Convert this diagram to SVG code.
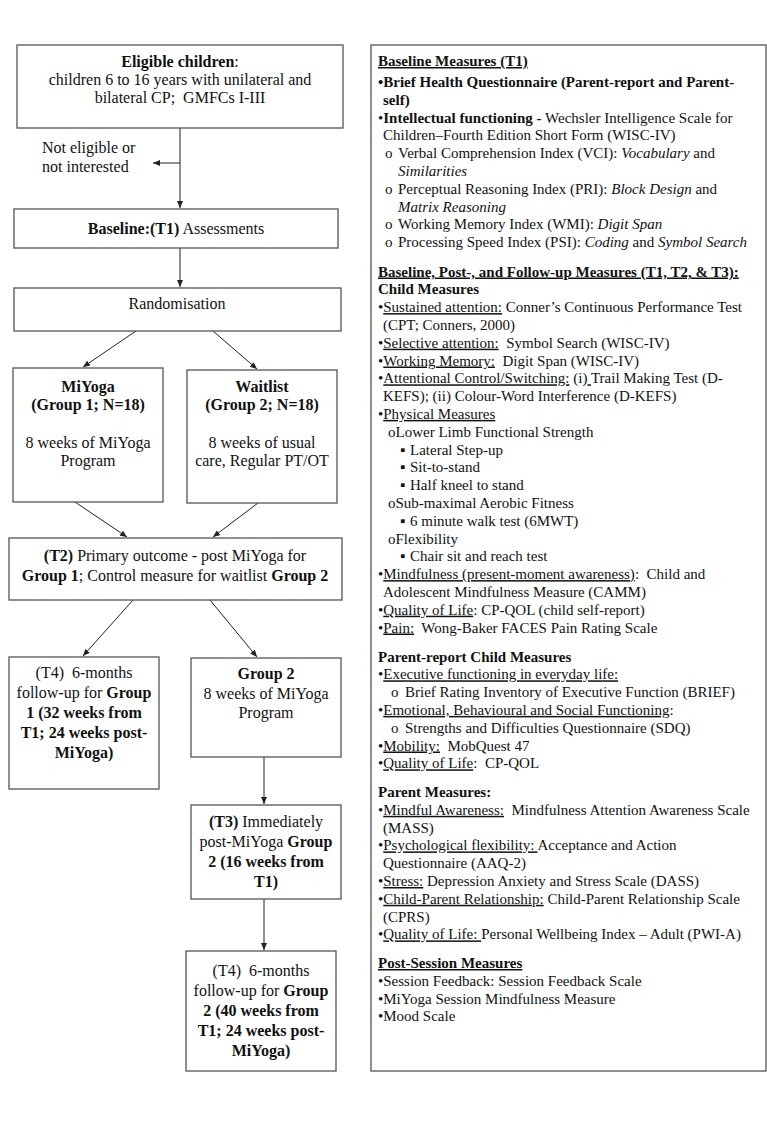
<svg xmlns="http://www.w3.org/2000/svg" width="767" height="1121" viewBox="0 0 767 1121">
<style>
.box{fill:#fff;stroke:#555;stroke-width:1.3}
.t{font-family:"Liberation Serif","Times New Roman",serif;font-size:16px;fill:#111;text-anchor:middle}
.tl{font-family:"Liberation Serif","Times New Roman",serif;font-size:16px;fill:#111}
.r{font-family:"Liberation Serif","Times New Roman","DejaVu Sans",serif;font-size:15px;fill:#111}
.b{font-weight:bold}
.i{font-style:italic}
.u{text-decoration:underline}
.ln{stroke:#222;stroke-width:1;fill:none}
</style>
<defs>
<marker id="ah" markerUnits="userSpaceOnUse" markerWidth="7" markerHeight="6" refX="7" refY="3" orient="auto">
<path d="M0,0 L7,3 L0,6 z" fill="#222"/>
</marker>
</defs>
<rect width="767" height="1121" fill="#fff"/>

<g id="connectors">
<line class="ln" x1="180" y1="128" x2="180" y2="208" marker-end="url(#ah)"/>
<line class="ln" x1="180" y1="163" x2="153" y2="163" marker-end="url(#ah)"/>
<line class="ln" x1="180" y1="248" x2="180" y2="287" marker-end="url(#ah)"/>
<line class="ln" x1="136" y1="331" x2="83" y2="367" marker-end="url(#ah)"/>
<line class="ln" x1="213" y1="331" x2="257" y2="369" marker-end="url(#ah)"/>
<line class="ln" x1="75" y1="502" x2="127" y2="537" marker-end="url(#ah)"/>
<line class="ln" x1="258" y1="503" x2="213" y2="537" marker-end="url(#ah)"/>
<line class="ln" x1="133" y1="600" x2="83" y2="656" marker-end="url(#ah)"/>
<line class="ln" x1="210" y1="600" x2="257" y2="657" marker-end="url(#ah)"/>
<line class="ln" x1="264" y1="757" x2="264" y2="804" marker-end="url(#ah)"/>
<line class="ln" x1="264" y1="899" x2="264" y2="950" marker-end="url(#ah)"/>
</g>

<g id="eligible">
<rect class="box" x="17" y="45" width="326" height="83"/>
<text class="t" x="180" y="67"><tspan class="b">Eligible children</tspan>:</text>
<text class="t" x="180" y="85">children 6 to 16 years with unilateral and</text>
<text class="t" x="180" y="103" xml:space="preserve">bilateral CP;  GMFCs I-III</text>
</g>

<g id="not-eligible">
<text class="tl" x="42" y="153">Not eligible or</text>
<text class="tl" x="42" y="172">not interested</text>
</g>

<g id="baseline">
<rect class="box" x="14" y="209" width="324" height="39"/>
<text class="t" x="176" y="234"><tspan class="b">Baseline:(T1)</tspan> Assessments</text>
</g>

<g id="randomisation">
<rect class="box" x="14" y="288" width="327" height="43"/>
<text class="t" x="177" y="309">Randomisation</text>
</g>

<g id="miyoga">
<rect class="box" x="13" y="368" width="150" height="134"/>
<text class="t b" x="88" y="392">MiYoga</text>
<text class="t b" x="88" y="410">(Group 1; N=18)</text>
<text class="t" x="88" y="448">8 weeks of MiYoga</text>
<text class="t" x="88" y="466">Program</text>
</g>

<g id="waitlist">
<rect class="box" x="187" y="370" width="150" height="133"/>
<text class="t b" x="262" y="392">Waitlist</text>
<text class="t b" x="262" y="410">(Group 2; N=18)</text>
<text class="t" x="262" y="448">8 weeks of usual</text>
<text class="t" x="262" y="466">care, Regular PT/OT</text>
</g>

<g id="t2">
<rect class="box" x="9" y="538" width="333" height="62"/>
<text class="t" x="175" y="561"><tspan class="b">(T2)</tspan> Primary outcome - post MiYoga for</text>
<text class="t" x="175" y="581"><tspan class="b">Group 1</tspan>; Control measure for waitlist <tspan class="b">Group 2</tspan></text>
</g>

<g id="t4-group1">
<rect class="box" x="9" y="657" width="150" height="132"/>
<text class="t" x="84" y="678" xml:space="preserve">(T4)  6-months</text>
<text class="t" x="84" y="698">follow-up for <tspan class="b">Group</tspan></text>
<text class="t b" x="84" y="718">1 (32 weeks from</text>
<text class="t b" x="84" y="738">T1; 24 weeks post-</text>
<text class="t b" x="84" y="758">MiYoga)</text>
</g>

<g id="group2">
<rect class="box" x="191" y="658" width="150" height="99"/>
<text class="t b" x="266" y="679">Group 2</text>
<text class="t" x="266" y="699">8 weeks of MiYoga</text>
<text class="t" x="266" y="718">Program</text>
</g>

<g id="t3">
<rect class="box" x="191" y="805" width="150" height="94"/>
<text class="t" x="266" y="827"><tspan class="b">(T3)</tspan> Immediately</text>
<text class="t" x="266" y="847">post-MiYoga <tspan class="b">Group</tspan></text>
<text class="t b" x="266" y="867">2 (16 weeks from</text>
<text class="t b" x="266" y="887">T1)</text>
</g>

<g id="t4-group2">
<rect class="box" x="186" y="951" width="150" height="120"/>
<text class="t" x="261" y="976" xml:space="preserve">(T4)  6-months</text>
<text class="t" x="261" y="996">follow-up for <tspan class="b">Group</tspan></text>
<text class="t b" x="261" y="1016">2 (40 weeks from</text>
<text class="t b" x="261" y="1036">T1; 24 weeks post-</text>
<text class="t b" x="261" y="1056">MiYoga)</text>
</g>

<g id="measures">
<rect class="box" x="371" y="45" width="395" height="1026"/>
<text class="r b u" x="378" y="66">Baseline Measures (T1)</text>
<text class="r b" x="378" y="87">•Brief Health Questionnaire (Parent-report and Parent-</text>
<text class="r b" x="383" y="104.8">self)</text>
<text class="r" x="378" y="122.6" xml:space="preserve">•<tspan class="b">Intellectual functioning -</tspan> Wechsler Intelligence Scale for</text>
<text class="r" x="383" y="140.4">Children–Fourth Edition Short Form (WISC-IV)</text>
<text class="r" x="385" y="158.2">o</text><text class="r" x="398" y="158.2" xml:space="preserve">Verbal Comprehension Index (VCI): <tspan class="i">Vocabulary</tspan> and</text>
<text class="r i" x="398" y="176">Similarities</text>
<text class="r" x="385" y="193.8">o</text><text class="r" x="398" y="193.8" xml:space="preserve">Perceptual Reasoning Index (PRI): <tspan class="i">Block Design</tspan> and</text>
<text class="r i" x="398" y="211.6">Matrix Reasoning</text>
<text class="r" x="385" y="229.4">o</text><text class="r" x="398" y="229.4" xml:space="preserve">Working Memory Index (WMI): <tspan class="i">Digit Span</tspan></text>
<text class="r" x="385" y="247.2">o</text><text class="r" x="398" y="247.2" xml:space="preserve">Processing Speed Index (PSI): <tspan class="i">Coding</tspan> and <tspan class="i">Symbol Search</tspan></text>

<text class="r b u" x="378" y="276.5">Baseline, Post-, and Follow-up Measures (T1, T2, &amp; T3):</text>
<text class="r b" x="378" y="294.3">Child Measures</text>
<text class="r" x="378" y="312.1" xml:space="preserve">•<tspan class="u">Sustained attention:</tspan> Conner’s Continuous Performance Test</text>
<text class="r" x="383" y="329.9">(CPT; Conners, 2000)</text>
<text class="r" x="378" y="347.7" xml:space="preserve">•<tspan class="u">Selective attention:</tspan>  Symbol Search (WISC-IV)</text>
<text class="r" x="378" y="365.5" xml:space="preserve">•<tspan class="u">Working Memory:</tspan>  Digit Span (WISC-IV)</text>
<text class="r" x="378" y="383.3" xml:space="preserve">•<tspan class="u">Attentional Control/Switching:</tspan> (i)<tspan class="u"> </tspan>Trail Making Test (D-</text>
<text class="r" x="383" y="401.1">KEFS); (ii) Colour-Word Interference (D-KEFS)</text>
<text class="r" x="378" y="418.9">•<tspan class="u">Physical Measures</tspan></text>
<text class="r" x="388" y="436.7">oLower Limb Functional Strength</text>
<text class="r" x="400" y="454.5">▪</text><text class="r" x="410" y="454.5">Lateral Step-up</text>
<text class="r" x="400" y="472.3">▪</text><text class="r" x="410" y="472.3">Sit-to-stand</text>
<text class="r" x="400" y="490.1">▪</text><text class="r" x="410" y="490.1">Half kneel to stand</text>
<text class="r" x="388" y="507.9">oSub-maximal Aerobic Fitness</text>
<text class="r" x="400" y="525.7">▪</text><text class="r" x="410" y="525.7">6 minute walk test (6MWT)</text>
<text class="r" x="388" y="543.5">oFlexibility</text>
<text class="r" x="400" y="561.3">▪</text><text class="r" x="410" y="561.3">Chair sit and reach test</text>
<text class="r" x="378" y="579.1" xml:space="preserve">•<tspan class="u">Mindfulness (present-moment awareness)</tspan>:  Child and</text>
<text class="r" x="383" y="596.9">Adolescent Mindfulness Measure (CAMM)</text>
<text class="r" x="378" y="614.7" xml:space="preserve">•<tspan class="u">Quality of Life</tspan>: CP-QOL (child self-report)</text>
<text class="r" x="378" y="632.5" xml:space="preserve">•<tspan class="u">Pain:</tspan>  Wong-Baker FACES Pain Rating Scale</text>

<text class="r b" x="378" y="661.5">Parent-report Child Measures</text>
<text class="r" x="378" y="679.3">•<tspan class="u">Executive functioning in everyday life:</tspan></text>
<text class="r" x="391" y="697.1">o</text><text class="r" x="405" y="697.1">Brief Rating Inventory of Executive Function (BRIEF)</text>
<text class="r" x="378" y="714.9">•<tspan class="u">Emotional, Behavioural and Social Functioning</tspan>:</text>
<text class="r" x="391" y="732.7">o</text><text class="r" x="405" y="732.7">Strengths and Difficulties Questionnaire (SDQ)</text>
<text class="r" x="378" y="750.5" xml:space="preserve">•<tspan class="u">Mobility:</tspan>  MobQuest 47</text>
<text class="r" x="378" y="768.3" xml:space="preserve">•<tspan class="u">Quality of Life</tspan>:  CP-QOL</text>

<text class="r b" x="378" y="797">Parent Measures:</text>
<text class="r" x="378" y="814.8" xml:space="preserve">•<tspan class="u">Mindful Awareness:</tspan>  Mindfulness Attention Awareness Scale</text>
<text class="r" x="383" y="832.6">(MASS)</text>
<text class="r" x="378" y="850.4" xml:space="preserve">•<tspan class="u">Psychological flexibility: </tspan>Acceptance and Action</text>
<text class="r" x="383" y="868.2">Questionnaire (AAQ-2)</text>
<text class="r" x="378" y="886" xml:space="preserve">•<tspan class="u">Stress:</tspan> Depression Anxiety and Stress Scale (DASS)</text>
<text class="r" x="378" y="903.8" xml:space="preserve">•<tspan class="u">Child-Parent Relationship:</tspan> Child-Parent Relationship Scale</text>
<text class="r" x="383" y="921.6">(CPRS)</text>
<text class="r" x="378" y="939.4" xml:space="preserve">•<tspan class="u">Quality of Life: </tspan>Personal Wellbeing Index – Adult (PWI-A)</text>

<text class="r b u" x="378" y="968">Post-Session Measures</text>
<text class="r" x="378" y="985.8">•Session Feedback: Session Feedback Scale</text>
<text class="r" x="378" y="1003.6">•MiYoga Session Mindfulness Measure</text>
<text class="r" x="378" y="1021.4">•Mood Scale</text>
</g>
</svg>
